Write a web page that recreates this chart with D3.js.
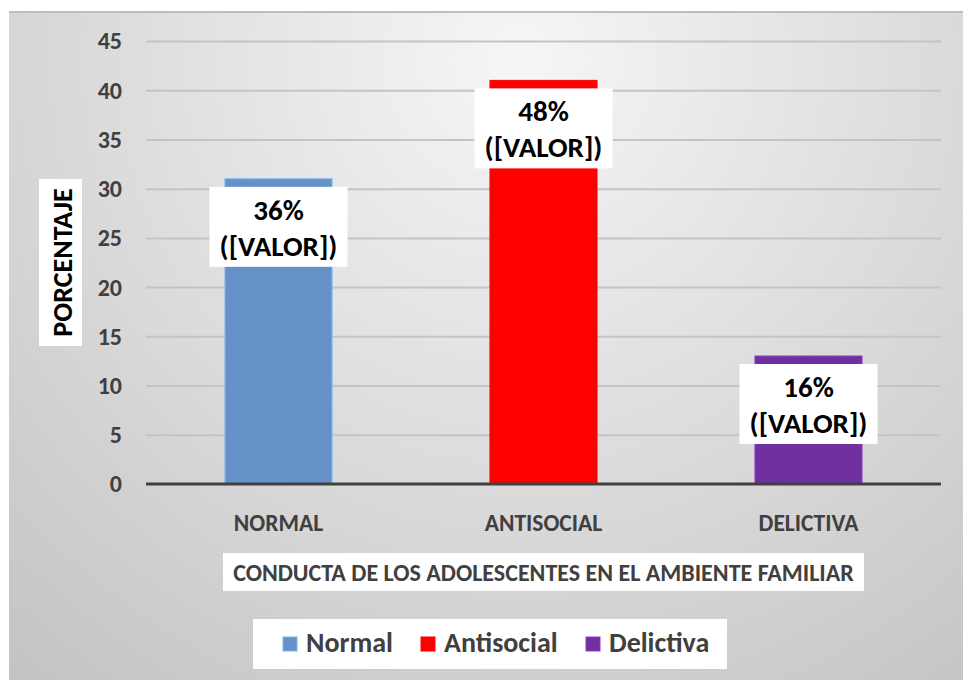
<!DOCTYPE html>
<html>
<head>
<meta charset="utf-8">
<script src="https://cdn.jsdelivr.net/npm/d3@7"></script>
<style>
    body { margin: 0; background: #ffffff; }
    text { font-family: Carlito, Lato, "Open Sans", sans-serif; font-weight: bold; }
</style>
</head>
<body>
<div id="chart"></div>
<script>
// Chart data
const categories = ["NORMAL", "ANTISOCIAL", "DELICTIVA"];
const values = [31, 41, 13];
const percentLabels = ["36%", "48%", "16%"];
const seriesNames = ["Normal", "Antisocial", "Delictiva"];
const seriesColors = ["#6591c6", "#ff0000", "#7030a0"];
const yTicks = [0, 5, 10, 15, 20, 25, 30, 35, 40, 45];

const W = 963, H = 680;
const plot = { left: 146, right: 941, top: 41, bottom: 484 };

const svg = d3.select("#chart")
    .append("svg")
    .attr("width", W)
    .attr("height", H);

// Background gradient
const defs = svg.append("defs");
const grad = defs.append("radialGradient")
    .attr("id", "bg")
    .attr("gradientUnits", "userSpaceOnUse")
    .attr("cx", 520).attr("cy", 60)
    .attr("r", 820);
grad.append("stop").attr("offset", "0%").attr("stop-color", "#f6f6f6");
grad.append("stop").attr("offset", "100%").attr("stop-color", "#c2c2c2");

svg.append("rect")
    .attr("x", 9).attr("y", 11)
    .attr("width", W - 9).attr("height", H - 11)
    .attr("fill", "url(#bg)");

svg.append("line")
    .attr("x1", 9).attr("x2", W)
    .attr("y1", 12).attr("y2", 12)
    .attr("stroke", "#bdbdbd")
    .attr("stroke-width", 2);

// Scales
const x = d3.scaleBand()
    .domain(categories)
    .range([plot.left, plot.right])
    .paddingInner(0.596)
    .paddingOuter(0.298);

const y = d3.scaleLinear()
    .domain([0, 45])
    .range([plot.bottom, plot.top]);

// Grid lines
svg.append("g")
    .attr("transform", `translate(${plot.left},0)`)
    .call(d3.axisLeft(y)
        .tickValues(yTicks.slice(1))
        .tickSize(-(plot.right - plot.left))
        .tickFormat(""))
    .call(g => g.select(".domain").remove())
    .selectAll("line")
    .attr("stroke", "#c4c4c4")
    .attr("stroke-width", 2);

// Y tick labels
svg.append("g")
    .attr("transform", `translate(122,0)`)
    .call(d3.axisLeft(y).tickValues(yTicks).tickSize(0).tickPadding(0))
    .call(g => g.select(".domain").remove())
    .selectAll("text")
    .attr("font-size", 24)
    .attr("fill", "#404040")
    .attr("dy", "0.33em");

// Bars
const data = categories.map((c, i) => ({ cat: c, value: values[i], pct: percentLabels[i], color: seriesColors[i] }));

svg.selectAll(".bar")
    .data(data)
    .enter()
    .append("rect")
    .attr("class", "bar")
    .attr("x", d => x(d.cat))
    .attr("y", d => y(d.value))
    .attr("width", x.bandwidth())
    .attr("height", d => y(0) - y(d.value))
    .attr("fill", d => d.color)
    .attr("stroke", d => d3.color(d.color).brighter(0.6))
    .attr("stroke-width", 1);

// X axis line
svg.append("line")
    .attr("x1", plot.left).attr("x2", plot.right)
    .attr("y1", y(0)).attr("y2", y(0))
    .attr("stroke", "#404040")
    .attr("stroke-width", 3);

// Category labels
svg.selectAll(".cat-label")
    .data(data)
    .enter()
    .append("text")
    .attr("class", "cat-label")
    .attr("x", d => x(d.cat) + x.bandwidth() / 2)
    .attr("y", 531)
    .attr("text-anchor", "middle")
    .attr("font-size", 23.5)
    .attr("fill", "#404040")
    .text(d => d.cat);

// Data labels with white boxes
const labels = svg.selectAll(".data-label")
    .data(data)
    .enter()
    .append("g")
    .attr("class", "data-label")
    .attr("transform", d => `translate(${x(d.cat) + x.bandwidth() / 2},${y(d.value) + 8})`);

labels.append("rect")
    .attr("x", -69).attr("y", 0)
    .attr("width", 138).attr("height", 80)
    .attr("fill", "#ffffff");

labels.append("text")
    .attr("y", 33)
    .attr("text-anchor", "middle")
    .attr("font-size", 29)
    .attr("fill", "#000000")
    .text(d => d.pct);

labels.append("text")
    .attr("y", 69)
    .attr("text-anchor", "middle")
    .attr("font-size", 29)
    .attr("fill", "#000000")
    .text("([VALOR])");

// Y axis title
svg.append("rect")
    .attr("x", 39).attr("y", 179)
    .attr("width", 43).attr("height", 167)
    .attr("fill", "#ffffff");

svg.append("text")
    .attr("transform", "translate(72,262.5) rotate(-90)")
    .attr("text-anchor", "middle")
    .attr("font-size", 28)
    .attr("fill", "#000000")
    .text("PORCENTAJE");

// X axis title
svg.append("rect")
    .attr("x", 223).attr("y", 553)
    .attr("width", 641).attr("height", 38)
    .attr("fill", "#ffffff");

svg.append("text")
    .attr("x", 543.5).attr("y", 581)
    .attr("text-anchor", "middle")
    .attr("font-size", 24)
    .attr("fill", "#404040")
    .text("CONDUCTA DE LOS ADOLESCENTES EN EL AMBIENTE FAMILIAR");

// Legend
svg.append("rect")
    .attr("x", 253).attr("y", 619)
    .attr("width", 474).attr("height", 50)
    .attr("fill", "#ffffff");

const legendX = [283, 421, 586];
const legend = svg.selectAll(".legend-item")
    .data(seriesNames)
    .enter()
    .append("g")
    .attr("class", "legend-item")
    .attr("transform", (d, i) => `translate(${legendX[i]},637)`);

legend.append("rect")
    .attr("width", 14).attr("height", 14)
    .attr("fill", (d, i) => seriesColors[i])
    .attr("stroke", (d, i) => d3.color(seriesColors[i]).brighter(0.6))
    .attr("stroke-width", 1);

legend.append("text")
    .attr("x", 23).attr("y", 15)
    .attr("font-size", 28)
    .attr("fill", "#404040")
    .text(d => d);
</script>
</body>
</html>
